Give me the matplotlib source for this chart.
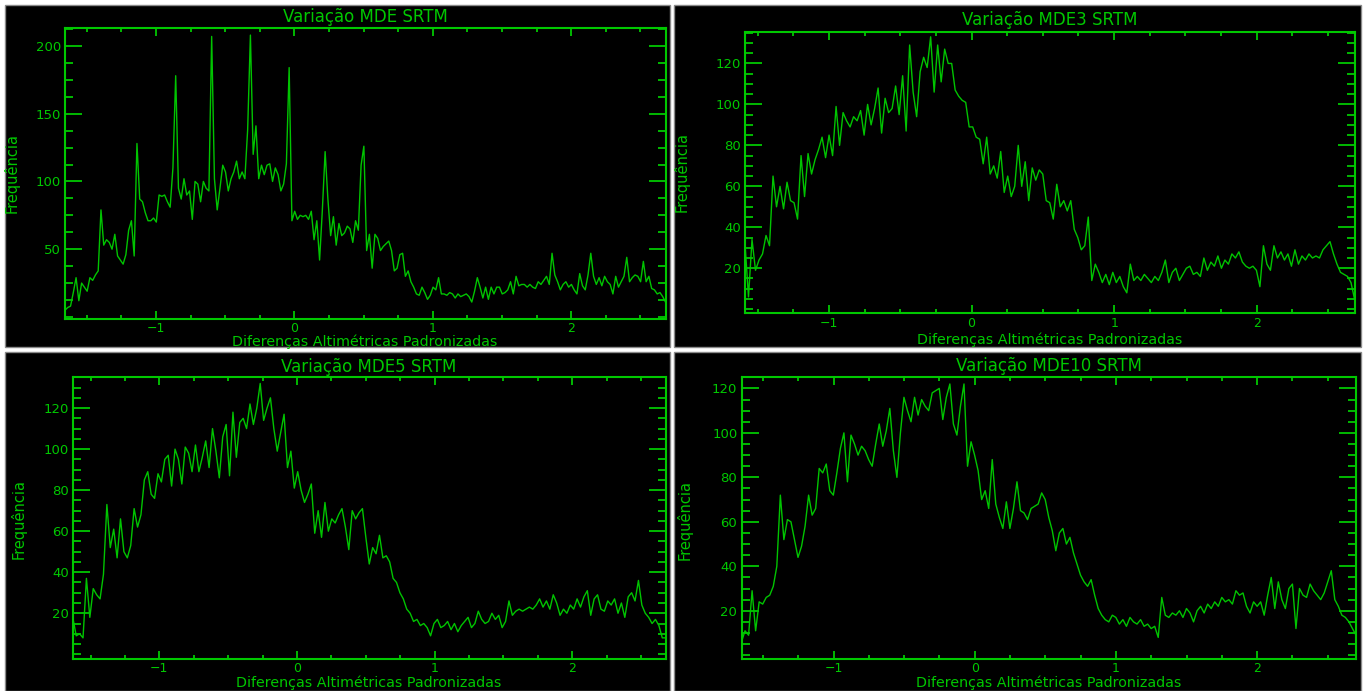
import numpy as np
import matplotlib
matplotlib.use('Agg')
import matplotlib.pyplot as plt
from matplotlib.patches import Rectangle
from matplotlib.ticker import MultipleLocator

W, H = 1368, 691
GREEN = '#00c800'
LINE_GREEN = '#00c400'

# histogram counts of the standardized height differences (one bin list per DEM)
freq_mde = [5, 7, 8, 18, 29, 12, 25, 22, 19, 29, 27, 31, 34, 79, 53, 57, 55, 50, 61, 45,
            42, 39, 46, 64, 71, 45, 128, 87, 85, 77, 71, 71, 73, 70, 90, 89, 90, 85, 81, 110,
            178, 95, 87, 102, 90, 93, 72, 100, 98, 85, 100, 95, 93, 207, 102, 79, 95, 112, 107, 93,
            102, 107, 115, 102, 107, 102, 138, 208, 120, 141, 102, 112, 105, 112, 113, 100, 110, 105, 93, 98,
            113, 184, 71, 78, 72, 75, 74, 75, 72, 78, 57, 71, 42, 79, 122, 87, 60, 74, 53, 69,
            60, 62, 67, 65, 55, 71, 64, 112, 126, 49, 61, 36, 61, 58, 49, 52, 54, 56, 49, 34,
            36, 46, 47, 30, 34, 26, 22, 17, 16, 22, 18, 13, 16, 22, 20, 29, 17, 17, 16, 18,
            17, 14, 17, 15, 16, 17, 15, 11, 19, 29, 22, 14, 22, 13, 22, 17, 22, 22, 17, 18,
            20, 26, 17, 30, 23, 24, 24, 22, 24, 22, 21, 26, 24, 27, 30, 24, 47, 31, 26, 20,
            24, 26, 22, 24, 20, 17, 32, 23, 20, 31, 47, 30, 24, 29, 23, 30, 26, 24, 17, 30,
            22, 26, 30, 44, 26, 29, 31, 30, 26, 41, 26, 30, 21, 20, 17, 18, 15, 11]

freq_mde3 = [32, 6, 34, 19, 24, 27, 36, 31, 65, 50, 60, 49, 62, 53, 52, 44, 75, 55, 76, 66,
             73, 78, 84, 74, 85, 75, 99, 80, 96, 92, 89, 94, 92, 97, 85, 100, 90, 98, 108, 86,
             103, 96, 98, 109, 95, 114, 87, 129, 106, 94, 116, 123, 118, 133, 106, 129, 111, 127, 120, 120,
             107, 104, 102, 101, 89, 89, 84, 83, 71, 84, 66, 70, 64, 77, 57, 65, 55, 60, 80, 60,
             72, 53, 69, 63, 68, 66, 53, 52, 44, 61, 50, 53, 48, 53, 39, 35, 29, 31, 45, 14,
             22, 18, 13, 17, 12, 18, 13, 16, 11, 8, 22, 14, 16, 14, 17, 15, 13, 16, 14, 18,
             24, 13, 18, 20, 14, 17, 20, 21, 17, 18, 16, 25, 19, 23, 21, 26, 20, 24, 22, 27,
             25, 28, 23, 21, 20, 21, 19, 11, 31, 22, 19, 31, 25, 28, 24, 27, 21, 29, 22, 26,
             24, 27, 25, 26, 25, 29, 31, 33, 27, 22, 18, 17, 16, 13, 5]

freq_mde5 = [18, 9, 10, 8, 37, 18, 32, 29, 27, 39, 73, 52, 61, 47, 66, 50, 47, 53, 71, 62,
             68, 85, 89, 78, 76, 88, 84, 95, 97, 82, 100, 95, 83, 101, 98, 89, 102, 89, 96, 104,
             91, 110, 99, 86, 106, 112, 87, 118, 96, 113, 115, 110, 122, 112, 120, 132, 114, 120, 125, 110,
             99, 108, 117, 91, 99, 81, 89, 80, 74, 78, 83, 59, 70, 57, 74, 60, 66, 64, 68, 71,
             62, 51, 70, 66, 69, 71, 57, 44, 52, 49, 58, 47, 48, 45, 37, 35, 30, 27, 22, 20,
             16, 17, 14, 15, 13, 9, 15, 17, 13, 14, 16, 12, 15, 11, 14, 16, 18, 13, 15, 21,
             17, 15, 16, 20, 17, 19, 13, 16, 26, 19, 21, 22, 21, 22, 23, 22, 24, 27, 23, 26,
             22, 29, 25, 19, 22, 20, 24, 22, 27, 23, 28, 31, 19, 27, 29, 22, 21, 26, 24, 27,
             20, 25, 18, 28, 30, 26, 36, 24, 20, 18, 15, 17, 14, 8, 8]

freq_mde10 = [6, 11, 9, 29, 11, 24, 23, 26, 27, 31, 40, 72, 52, 61, 60, 52, 44, 49, 58, 72,
              63, 66, 84, 82, 86, 74, 72, 82, 93, 100, 78, 99, 95, 90, 94, 92, 88, 85, 95, 104,
              94, 101, 111, 92, 80, 100, 116, 110, 105, 116, 108, 115, 112, 110, 118, 119, 120, 106, 116, 122,
              104, 99, 112, 122, 85, 96, 90, 83, 70, 74, 66, 88, 68, 62, 57, 69, 57, 66, 78, 65,
              64, 61, 66, 67, 68, 73, 70, 62, 56, 47, 55, 57, 50, 53, 46, 41, 36, 33, 31, 34,
              27, 21, 18, 16, 15, 18, 17, 14, 16, 13, 17, 15, 14, 16, 13, 14, 12, 13, 8, 26,
              18, 17, 19, 18, 20, 17, 21, 19, 15, 20, 22, 19, 23, 21, 24, 22, 26, 24, 25, 23,
              29, 27, 28, 22, 19, 24, 22, 24, 18, 27, 35, 21, 33, 25, 21, 30, 32, 12, 30, 27,
              26, 32, 29, 27, 25, 28, 33, 38, 25, 22, 18, 17, 15, 12, 9]

titles = ['Variação MDE SRTM', 'Variação MDE3 SRTM', 'Variação MDE5 SRTM', 'Variação MDE10 SRTM']
series = [freq_mde, freq_mde3, freq_mde5, freq_mde10]
x_ranges = [(-1.658, 2.681), (-1.589, 2.686), (-1.629, 2.68), (-1.652, 2.70)]
y_ranges = [(-1.5, 213), (-2, 135.5), (-2.3, 135), (-1.7, 125)]
y_major = [50, 20, 20, 20]
y_minor = [12.5, 5, 5, 5]

# layout in pixels: black panel, plot box, title/xlabel/ylabel centres
panels = [(5, 5, 670, 347), (674, 5, 1361, 347), (5, 352, 670, 691), (674, 352, 1361, 691)]
boxes = [(65, 28.3, 665.5, 319), (745, 31.7, 1354.5, 313.3),
         (72.8, 377.3, 665.7, 659), (741.5, 377.3, 1356, 659)]
title_pos = [(365, 17.5), (1050, 20), (369, 366.5), (1049, 366)]
xlabel_pos = [(365, 342), (1050, 339.5), (369, 682.5), (1049, 682.5)]
ylabel_pos = [(12, 173), (682, 172.5), (18.5, 519), (685, 519.5)]


def fx(x):
    return x / W


def fy(y):
    return 1 - y / H


fig = plt.figure(figsize=(W / 100, H / 100), dpi=100, facecolor='white')

for k in range(4):
    l, t, r, b = panels[k]
    fig.add_artist(Rectangle((fx(l), fy(b)), fx(r - l), (b - t) / H, transform=fig.transFigure,
                             facecolor='black', edgecolor='#8a8a8a', lw=1, zorder=-1))

    l, t, r, b = boxes[k]
    ax = fig.add_axes([fx(l), fy(b), fx(r - l), (b - t) / H])
    ax.set_facecolor('black')

    y = np.array(series[k])
    x = np.linspace(x_ranges[k][0], x_ranges[k][1], len(y))
    ax.plot(x, y, color=LINE_GREEN, lw=1.0)

    ax.set_xlim(*x_ranges[k])
    ax.set_ylim(*y_ranges[k])
    ax.xaxis.set_major_locator(MultipleLocator(1))
    ax.xaxis.set_minor_locator(MultipleLocator(0.25))
    ax.yaxis.set_major_locator(MultipleLocator(y_major[k]))
    ax.yaxis.set_minor_locator(MultipleLocator(y_minor[k]))
    ax.set_yticks([v for v in ax.get_yticks() if 0 < v <= y_ranges[k][1]])

    for s in ax.spines.values():
        s.set_color(GREEN)
        s.set_linewidth(1.5)
    ax.tick_params(which='both', direction='in', top=True, right=True, colors=GREEN,
                   labelsize=9.5, width=1.3, pad=3)
    ax.tick_params(axis='x', which='major', length=6, pad=2.5, labelsize=9)
    ax.tick_params(axis='x', which='minor', length=3)
    ax.tick_params(axis='y', which='major', length=12)
    ax.tick_params(axis='y', which='minor', length=6)

    fig.text(fx(title_pos[k][0]), fy(title_pos[k][1]), titles[k], color=GREEN,
             fontsize=12, ha='center', va='center')
    fig.text(fx(xlabel_pos[k][0]), fy(xlabel_pos[k][1]), 'Diferenças Altimétricas Padronizadas',
             color=GREEN, fontsize=10.3, ha='center', va='center')
    fig.text(fx(ylabel_pos[k][0]), fy(ylabel_pos[k][1]), 'Frequência', color=GREEN,
             fontsize=10.5, ha='center', va='center', rotation=90)

fig.savefig('out.png', dpi=100, facecolor='white')
